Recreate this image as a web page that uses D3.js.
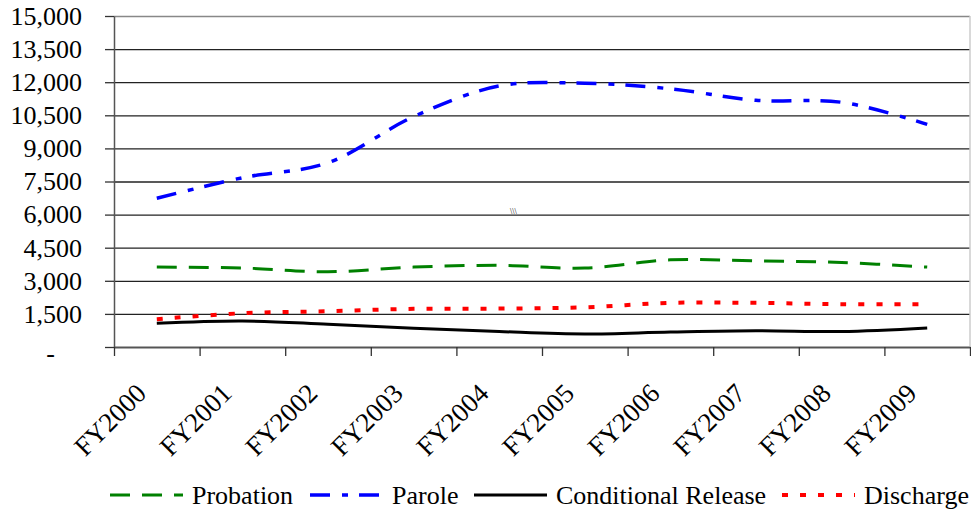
<!DOCTYPE html>
<html>
<head>
<meta charset="utf-8">
<script src="https://cdn.jsdelivr.net/npm/d3@7"></script>
<style>
    body { margin: 0; background: #fff; }
    svg text { font-family: "Times New Roman", "Liberation Serif", "DejaVu Serif", serif; fill: #000; }
</style>
</head>
<body>
<svg id="chart"></svg>
<script>
// categories and series
const years = ["FY2000", "FY2001", "FY2002", "FY2003", "FY2004", "FY2005", "FY2006", "FY2007", "FY2008", "FY2009"];
const probation   = [3620, 3580, 3410, 3620, 3700, 3580, 3950, 3900, 3830, 3620];
const parole      = [6740, 7670, 8350, 10440, 11830, 11950, 11700, 11180, 11090, 10090];
const conditional = [1075, 1180, 1030, 850, 700, 590, 680, 740, 700, 860];
const discharge   = [1260, 1530, 1620, 1730, 1740, 1800, 2000, 2000, 1940, 1940];
const yTicks = [0, 1500, 3000, 4500, 6000, 7500, 9000, 10500, 12000, 13500, 15000];
const seriesNames = ["Probation", "Parole", "Conditional Release", "Discharge"];

const series = [
    {name: seriesNames[0], values: probation,   color: "#008000", dash: "20,12", width: 3},
    {name: seriesNames[1], values: parole,      color: "#0000ff", dash: "20,12,6,11", width: 3.5},
    {name: seriesNames[2], values: conditional, color: "#000000", dash: null, width: 3},
    {name: seriesNames[3], values: discharge,   color: "#ff0000", dash: "6,12", width: 4}
];

const FONT = '"Times New Roman", "Liberation Serif", "DejaVu Serif", serif';

const W = 971, H = 513;
const margin = {top: 16, right: 1, bottom: 166, left: 114};
const width = W - margin.left - margin.right;
const height = H - margin.top - margin.bottom;

const svg = d3.select('#chart')
    .attr('width', W)
    .attr('height', H);

const chart = svg.append('g')
    .attr('transform', `translate(${margin.left},${margin.top})`);

const xScale = d3.scaleBand()
    .domain(years)
    .range([0, width])
    .padding(0);

// linear index scale, only used for the tick marks between categories
const xEdge = d3.scaleLinear()
    .domain([0, years.length])
    .range([0, width]);

const yScale = d3.scaleLinear()
    .domain([0, 15000])
    .range([height, 0]);

// gridlines
chart.append('g')
    .attr('class', 'grid')
    .call(d3.axisLeft(yScale).tickValues(yTicks).tickSize(-width).tickFormat(''))
    .call(g => g.select('.domain').remove())
    .call(g => g.selectAll('.tick line')
        .attr('stroke', (d) => d == 15000 ? '#888' : '#222')
        .attr('stroke-width', 1.3));

// right border of plot area
chart.append('line')
    .attr('x1', width).attr('x2', width)
    .attr('y1', 0).attr('y2', height)
    .attr('stroke', '#ccc')
    .attr('stroke-width', 1.5);

// y axis with labels
const yAxisGroup = chart.append('g')
    .attr('class', 'axis y-axis')
    .attr('font-family', FONT)
    .call(d3.axisLeft(yScale)
        .tickValues(yTicks)
        .tickSize(9)
        .tickSizeOuter(0)
        .tickPadding(23)
        .tickFormat(d => d == 0 ? '-' : d3.format(',')(d)));
yAxisGroup.attr('font-family', FONT);

yAxisGroup.select('.domain').attr('stroke', '#555').attr('stroke-width', 1.5);
yAxisGroup.selectAll('.tick line').attr('stroke', '#333').attr('stroke-width', 1.3);
yAxisGroup.selectAll('.tick text')
    .attr('font-size', 26)
    .attr('font-family', FONT)
    .attr('fill', '#000');
// the zero label sits further left, like an accounting format
yAxisGroup.selectAll('.tick').filter(d => d == 0).select('text')
    .attr('x', -59)
    .attr('dy', '0.55em');

// x axis: tick marks on the category edges
const xAxisGroup = chart.append('g')
    .attr('class', 'axis x-axis')
    .attr('transform', `translate(0,${height})`)
    .call(d3.axisBottom(xEdge)
        .tickValues(d3.range(years.length + 1))
        .tickSize(9)
        .tickSizeOuter(0)
        .tickFormat(''));

xAxisGroup.select('.domain').attr('stroke', '#555').attr('stroke-width', 1.5);
xAxisGroup.selectAll('.tick line').attr('stroke', '#333').attr('stroke-width', 1.3);

// rotated category labels
chart.append('g')
    .selectAll('text')
    .data(years)
    .join('text')
        .attr('text-anchor', 'end')
        .attr('font-size', 27)
        .attr('font-family', FONT)
        .attr('transform', d => {
            let cx = xScale(d) + xScale.bandwidth() / 2 - 9;
            return `translate(${cx},${height + 48}) rotate(-45)`;
        })
        .text(d => d);

// the lines
const line = d3.line()
    .x((d, i) => xScale(years[i]) + xScale.bandwidth() / 2)
    .y(d => yScale(d))
    .curve(d3.curveCatmullRom.alpha(0.5));

chart.selectAll('path.series')
    .data(series)
    .join('path')
        .attr('class', 'series')
        .attr('fill', 'none')
        .attr('stroke', d => d.color)
        .attr('stroke-width', d => d.width)
        .attr('stroke-dasharray', d => d.dash)
        .attr('d', d => line(d.values));

// small stray marks in the middle of the plot
svg.append('text')
    .attr('x', 510).attr('y', 214)
    .attr('font-size', 8)
    .attr('fill', '#333')
    .text('\\\\\\');

// legend
const legendX = [110, 310, 474, 782];
const legend = svg.append('g')
    .attr('class', 'legend');

series.forEach((s, i) => {
    let g = legend.append('g')
        .attr('transform', `translate(${legendX[i]},495)`);
    g.append('line')
        .attr('x1', 0).attr('x2', 73)
        .attr('y1', 0).attr('y2', 0)
        .attr('stroke', s.color)
        .attr('stroke-width', s.width)
        .attr('stroke-dasharray', s.dash);
    g.append('text')
        .attr('x', 82)
        .attr('y', 9)
        .attr('font-size', 26)
        .attr('font-family', FONT)
        .text(s.name);
});
</script>
</body>
</html>
